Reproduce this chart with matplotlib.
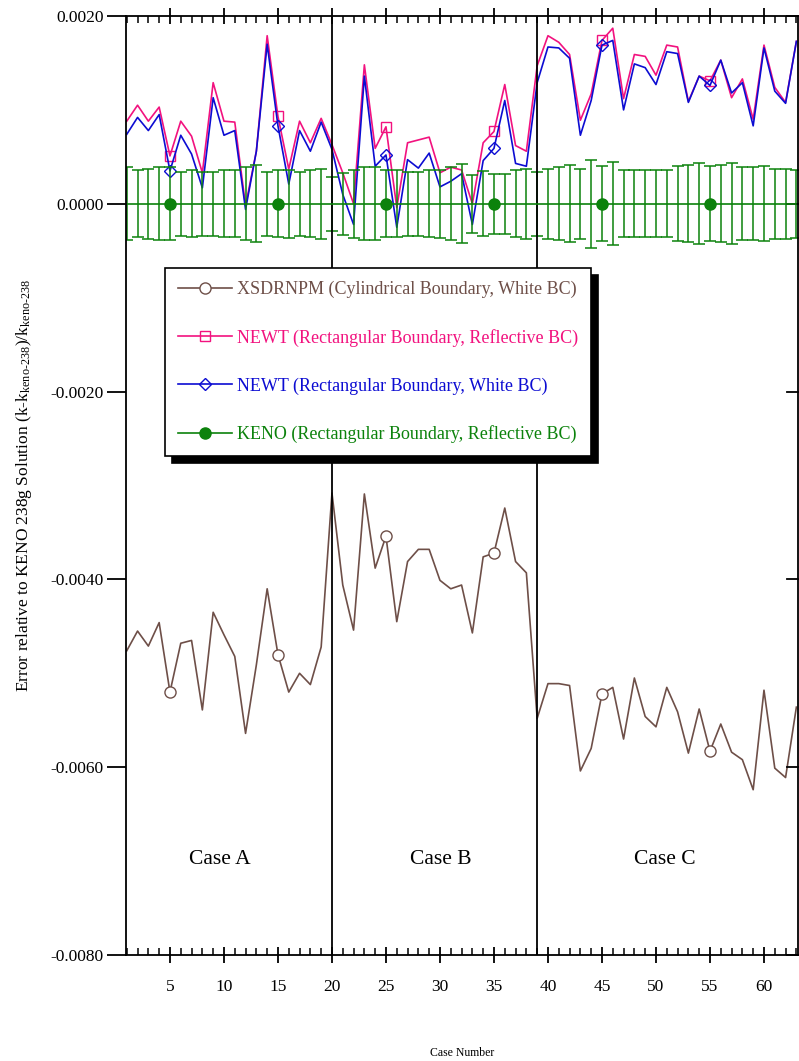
import numpy as np
import matplotlib
matplotlib.use('Agg')
import matplotlib.pyplot as plt
from matplotlib.lines import Line2D
from matplotlib.ticker import MultipleLocator, FormatStrFormatter

plt.rcParams['font.family'] = 'Liberation Serif'
plt.rcParams['mathtext.fontset'] = 'stix'
plt.rcParams['axes.unicode_minus'] = False

# case numbers and errors relative to KENO 238g (in units of 1e-4)
case = np.arange(1, 64)

xsdrnpm = [-47.6, -45.5, -47.1, -44.6, -52.0, -46.8, -46.5, -53.9, -43.5, -45.9,
           -48.2, -56.4, -49.1, -41.0, -48.0, -52.0, -50.0, -51.2, -47.2, -30.8,
           -40.6, -45.4, -30.9, -38.8, -35.4, -44.5, -38.1, -36.8, -36.8, -40.1,
           -41.0, -40.6, -45.7, -37.6, -37.2, -32.4, -38.1, -39.3, -54.8, -51.1,
           -51.1, -51.3, -60.4, -58.0, -52.2, -51.5, -57.0, -50.5, -54.6, -55.7,
           -51.5, -54.1, -58.5, -53.8, -58.3, -55.4, -58.4, -59.2, -62.4, -51.8,
           -60.1, -61.1, -53.6]

newt_refl = [8.8, 10.5, 8.8, 10.3, 5.1, 8.8, 7.2, 3.3, 12.9, 8.8,
             8.7, -0.2, 5.6, 17.9, 9.3, 3.7, 8.8, 6.5, 9.1, 6.3,
             3.3, 0.0, 14.8, 5.9, 8.2, -0.4, 6.5, 6.8, 7.1, 3.3,
             3.9, 3.6, 0.0, 6.5, 7.7, 12.7, 6.2, 5.6, 14.7, 17.9,
             17.2, 15.9, 8.9, 11.7, 17.4, 18.7, 11.2, 15.9, 15.7, 13.7,
             16.9, 16.7, 10.9, 13.6, 13.1, 15.3, 11.3, 13.3, 9.0, 16.9,
             12.4, 10.8, 17.3]

newt_white = [7.4, 9.2, 7.8, 9.5, 3.5, 7.3, 5.3, 1.7, 11.3, 7.3,
              7.8, -0.6, 5.6, 17.0, 8.3, 2.1, 7.8, 5.6, 8.7, 5.8,
              1.0, -2.2, 13.6, 4.0, 5.2, -2.5, 4.7, 3.8, 5.4, 1.8,
              2.4, 3.2, -2.2, 4.6, 5.9, 11.0, 4.3, 4.0, 12.9, 16.7,
              16.6, 15.5, 7.3, 11.0, 16.9, 17.4, 10.0, 14.9, 14.5, 12.7,
              16.2, 16.0, 10.8, 13.6, 12.6, 15.3, 11.8, 12.9, 8.3, 16.6,
              12.0, 10.7, 17.3]

keno = np.zeros(63)
keno_err = [3.9, 3.55, 3.7, 3.9, 3.9, 3.4, 3.55, 3.4, 3.4, 3.55,
            3.55, 3.9, 4.1, 3.4, 3.55, 3.6, 3.4, 3.55, 3.7, 2.9,
            3.3, 3.65, 3.9, 3.9, 3.55, 3.55, 3.4, 3.4, 3.55, 3.6,
            3.9, 4.2, 3.1, 3.45, 3.2, 3.2, 3.55, 3.7, 3.4, 3.7,
            3.9, 4.1, 3.7, 4.7, 4.0, 4.4, 3.55, 3.55, 3.55, 3.55,
            3.55, 4.0, 4.1, 4.3, 4.0, 4.1, 4.3, 3.9, 3.9, 4.0,
            3.7, 3.7, 3.6]

labels = ['XSDRNPM (Cylindrical Boundary, White BC)',
          'NEWT (Rectangular Boundary, Reflective BC)',
          'NEWT (Rectangular Boundary, White BC)',
          'KENO (Rectangular Boundary, Reflective BC)']

case_names = ['Case A', 'Case B', 'Case C']
case_pos = [9.6, 30.1, 50.8]
case_breaks = [20, 39]

scale = 1e-4
brown = '#6e4f48'
pink = '#f2127f'
blue = '#0c0cd2'
green = '#0c820c'

fig = plt.figure(figsize=(7.99, 10.61), dpi=100)
ax = fig.add_axes([126 / 799, 1 - 955 / 1061, 672 / 799, 939 / 1061])

mk = slice(4, None, 10)
l1, = ax.plot(case, np.array(xsdrnpm) * scale, color=brown, lw=1.2, marker='o',
              mfc='white', mec=brown, ms=8, mew=1.0, markevery=mk)
l2, = ax.plot(case, np.array(newt_refl) * scale, color=pink, lw=1.2, marker='s',
              mfc='none', mec=pink, ms=7.5, mew=1.0, markevery=mk)
l3, = ax.plot(case, np.array(newt_white) * scale, color=blue, lw=1.2, marker='D',
              mfc='none', mec=blue, ms=6, mew=1.0, markevery=mk)
ax.errorbar(case, keno, yerr=np.array(keno_err) * scale, color=green, lw=1.2,
            elinewidth=1.1, capsize=4, capthick=1.1, marker='o', ms=8,
            mfc=green, mec=green, markevery=mk)
l4 = Line2D([], [], color=green, lw=1.2, marker='o', ms=8, mfc=green, mec=green)

for xb in case_breaks:
    ax.axvline(xb, color='black', lw=1.3)

for name, xp in zip(case_names, case_pos):
    ax.text(xp, -0.00698, name, ha='center', va='center', fontsize=15.5)

ax.set_xlim(0.93, 63.15)
ax.set_ylim(-0.008, 0.002)

ax.xaxis.set_major_locator(MultipleLocator(5))
ax.xaxis.set_minor_locator(MultipleLocator(1))
ax.yaxis.set_major_locator(MultipleLocator(0.002))
ax.yaxis.set_major_formatter(FormatStrFormatter('%.4f'))
ax.tick_params(axis='x', which='major', direction='inout', length=11, width=1.3,
               top=True, bottom=True, labelsize=12.5, pad=12)
ax.tick_params(axis='x', which='minor', direction='in', length=5, width=1.1,
               top=True, bottom=True)
ax.tick_params(axis='y', which='major', direction='out', length=14, width=1.3,
               left=True, right=False, labelsize=12.5, pad=2)
# short inward ticks on the right edge
for yt in np.arange(-0.008, 0.0021, 0.002):
    ax.plot([62.1, 63.15], [yt, yt], color='black', lw=1.3, clip_on=False)

for s in ax.spines.values():
    s.set_linewidth(1.3)

ax.set_xlabel('Case Number', fontsize=8.5, labelpad=37)
ax.set_ylabel(r'Error relative to KENO 238g Solution (k-k$_{\mathregular{keno\text{-}238}}$)/k$_{\mathregular{keno\text{-}238}}$',
              fontsize=12.5, labelpad=12)

leg = ax.legend([l1, l2, l3, l4], labels, loc='upper left',
                bbox_to_anchor=(0.058, 0.7316), borderaxespad=0,
                fontsize=13, frameon=True, fancybox=False, edgecolor='black',
                handlelength=3.0, handletextpad=0.3, labelspacing=1.7,
                borderpad=0.7,
                shadow={'ox': 5, 'oy': -5, 'color': 'black', 'alpha': 1})
leg.get_frame().set_linewidth(1.2)
for txt, c in zip(leg.get_texts(), [brown, pink, blue, green]):
    txt.set_color(c)

fig.savefig('out.png', dpi=100)
